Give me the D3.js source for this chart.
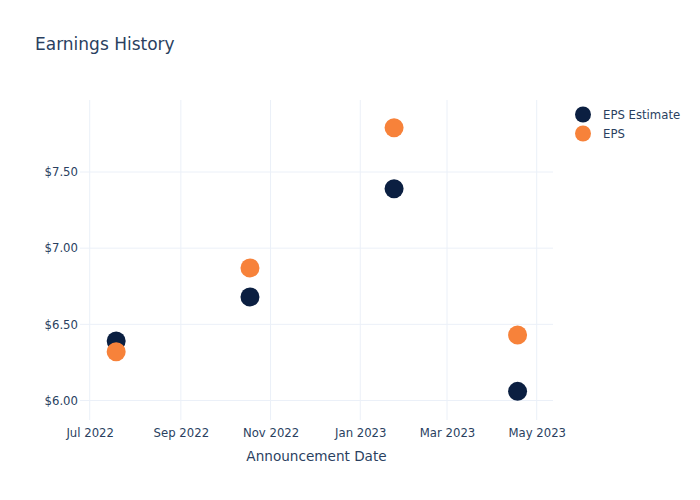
<!DOCTYPE html>
<html><head><meta charset="utf-8">
<script src="https://cdn.jsdelivr.net/npm/d3@7"></script>
<style>body{margin:0;background:#fff}svg,svg text{font-family:"DejaVu Sans",Verdana,sans-serif}</style>
</head><body><svg id="c" width="700" height="500"></svg>
<script>
const dates = ["2022-07-19","2022-10-18","2023-01-24","2023-04-18"];
const epsEstimate = [6.39, 6.68, 7.39, 6.06];
const eps = [6.32, 6.87, 7.79, 6.43];
const yTicks = [6.0, 6.5, 7.0, 7.5];
const xTicks = ["2022-07-01","2022-09-01","2022-11-01","2023-01-01","2023-03-01","2023-05-01"];
const seriesNames = ["EPS Estimate","EPS"];
const colors = ["#0b1f41","#f7823a"];

const FONT = "DejaVu Sans, Verdana, sans-serif";
const parse = d3.timeParse("%Y-%m-%d");
const svg = d3.select("#c");
const L=80, R=553, T=100, B=420;
const x = d3.scaleTime().domain([parse("2022-07-01"), parse("2023-05-01")]).range([89.7,536.7]);
const y = d3.scaleLinear().domain([6.0, 7.5]).range([400.5, 172]);
const txt = "#2a3f5f", grid = "#ebf0f8";

const g = svg.append("g");
g.selectAll("line.xg").data(xTicks).join("line")
  .attr("x1",d=>x(parse(d))).attr("x2",d=>x(parse(d))).attr("y1",T).attr("y2",B)
  .attr("stroke",grid).attr("stroke-width",1);
g.selectAll("line.yg").data(yTicks).join("line")
  .attr("x1",L).attr("x2",R).attr("y1",d=>y(d)).attr("y2",d=>y(d))
  .attr("stroke",grid).attr("stroke-width",1);

const xAxis = d3.axisBottom(x).tickValues(xTicks.map(parse)).tickFormat(d3.timeFormat("%b %Y")).tickSize(0).tickPadding(9);
const xa = svg.append("g").attr("transform",`translate(0,${B})`).call(xAxis)
  .attr("font-family",FONT).attr("font-size",11.7);
xa.select(".domain").remove();
xa.selectAll("text").attr("fill",txt);

const yAxis = d3.axisLeft(y).tickValues(yTicks).tickFormat(d=>"$"+d3.format(".2f")(d)).tickSize(0).tickPadding(2);
const ya = svg.append("g").attr("transform",`translate(${L},0)`).call(yAxis)
  .attr("font-family",FONT).attr("font-size",11.7);
ya.select(".domain").remove();
ya.selectAll("text").attr("fill",txt);

const all = [epsEstimate, eps];
all.forEach((vals,i)=>{
  svg.append("g").selectAll("circle").data(vals).join("circle")
    .attr("cx",(d,j)=>x(parse(dates[j]))).attr("cy",d=>y(d)).attr("r",9.5)
    .attr("fill",colors[i]);
});

svg.append("text").attr("x",35).attr("y",50).attr("fill",txt).style("font-size","17px").text("Earnings History");
svg.append("text").attr("x",(L+R)/2).attr("y",461).attr("text-anchor","middle").attr("fill",txt).style("font-size","13.6px").text("Announcement Date");

const lg = svg.append("g");
seriesNames.forEach((n,i)=>{
  lg.append("circle").attr("cx",583).attr("cy",114.5+i*19).attr("r",8).attr("fill",colors[i]);
  lg.append("text").attr("x",603).attr("y",118.5+i*19).attr("fill",txt).style("font-size","11.7px").text(n);
});
</script></body></html>
